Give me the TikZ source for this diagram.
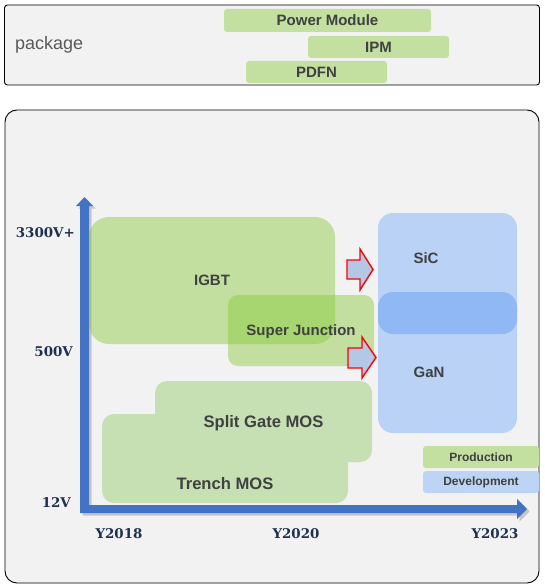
\documentclass[tikz,border=0pt]{standalone}
\usepackage{fontspec}
\newfontfamily\arialf{Liberation Sans}
\newfontfamily\serifb{DejaVu Serif}
\definecolor{panelgray}{HTML}{F2F2F2}
\definecolor{pgreen}{HTML}{C3E0A0}
\definecolor{mosgreen}{HTML}{C6E0B4}
\definecolor{tgreen}{HTML}{84C832}
\definecolor{devblue}{HTML}{B9D2F6}
\definecolor{bandblue}{HTML}{8FB8F5}
\definecolor{legblue}{HTML}{BDD4F5}
\definecolor{axisblue}{HTML}{4472C4}
\definecolor{navy}{HTML}{1F2F4F}
\definecolor{txtgray}{HTML}{404040}
\definecolor{arrfill}{HTML}{B4C7E7}
\tikzset{
  panel/.style={draw=black, line width=0.9pt, fill=panelgray, inner sep=0pt},
  bar/.style={fill=pgreen, rounded corners=3pt, inner sep=0pt, text=txtgray,
    font=\arialf\bfseries\fontsize{15}{17}\selectfont},
  techbox/.style={inner sep=0pt, text=txtgray, text depth=0pt, font=\arialf\bfseries\fontsize{15}{18}\selectfont},
  boxlbl/.style={text=txtgray, text depth=0pt, font=\arialf\bfseries\fontsize{15}{18}\selectfont, inner sep=0pt},
  axlbl/.style={text=navy, font=\serifb\bfseries\fontsize{13.4}{16}\selectfont, inner sep=0pt},
  legbox/.style={inner sep=0pt, rounded corners=3pt, minimum width=116pt, minimum height=22pt,
    text=txtgray, font=\arialf\bfseries\fontsize{12}{14}\selectfont},
  redarrow/.style={draw=red, line width=1.4pt, fill=arrfill, line join=miter}
}
\begin{document}
\begin{tikzpicture}[x=1pt,y=-1pt]
\useasboundingbox (0,0) rectangle (544,588);
\fill[white] (0,0) rectangle (544,588);
% package panel
\node[panel, rounded corners=3pt, minimum width=535pt, minimum height=80pt] (pkgpanel) at (272,45) {};
\node[anchor=west, inner sep=0pt, text=black!65, font=\arialf\fontsize{18}{20}\selectfont] (pkglbl) at (15,45) {package};
\node[bar, minimum width=207pt, minimum height=23pt, text depth=0pt] (pm) at (327.5,20.5) {Power Module};
\node[bar, minimum width=141pt, minimum height=22pt] (ipm) at (378.5,47) {IPM};
\node[bar, minimum width=141pt, minimum height=22pt] (pdfn) at (316.5,72) {PDFN};
% main panel
\node[panel, rounded corners=12pt, minimum width=534pt, minimum height=473pt] (mainpanel) at (272,346.5) {};
% axes (shadow + arrow)
\fill[black, opacity=0.18, shift={(2.5,2.5)}]
  (84.5,197) -- (93,206) -- (89,206) -- (89,505) -- (517,505) -- (517,499) -- (527,509)
  -- (517,519) -- (517,513) -- (80,513) -- (80,206) -- (76,206) -- cycle;
\fill[axisblue]
  (84.5,197) -- (93,206) -- (89,206) -- (89,505) -- (517,505) -- (517,499) -- (527,509)
  -- (517,519) -- (517,513) -- (80,513) -- (80,206) -- (76,206) -- cycle;
% axis labels
\node[axlbl, anchor=east] (v3300) at (75,233) {3300V+};
\node[axlbl, anchor=east] (v500) at (73,352) {500V};
\node[axlbl, anchor=east] (v12) at (71,503) {12V};
\node[axlbl] (y2018) at (119,534) {Y2018};
\node[axlbl] (y2020) at (296,534) {Y2020};
\node[axlbl] (y2023) at (495,534) {Y2023};
% MOS boxes
\node[techbox, fill=mosgreen, rounded corners=12pt, minimum width=246pt, minimum height=89pt] (trench) at (225,458.5) {};
\node[boxlbl, font=\arialf\bfseries\fontsize{16.6}{19}\selectfont] (trenchlbl) at (225,483.5) {Trench MOS};
\node[techbox, fill=mosgreen, rounded corners=12pt, minimum width=217pt, minimum height=81pt,
  font=\arialf\bfseries\fontsize{16.6}{19}\selectfont] (split) at (263.5,421.5) {Split Gate MOS};
% IGBT and Super Junction (translucent)
\node[techbox, fill=tgreen, fill opacity=0.43, text opacity=1, rounded corners=20pt, minimum width=246pt, minimum height=127pt] (igbt) at (212,280.5) {IGBT};
\node[techbox, fill=tgreen, fill opacity=0.43, text opacity=1, rounded corners=10pt, minimum width=146pt, minimum height=71pt] (sj) at (301,330.5) {Super Junction};
% development box
\node[techbox, fill=devblue, rounded corners=15pt, minimum width=139pt, minimum height=220pt] (dev) at (447.5,323) {};
\node[techbox, fill=bandblue, rounded corners=15pt, minimum width=139pt, minimum height=42pt] (band) at (447.5,313) {};
\node[boxlbl] (sic) at (426,258) {SiC};
\node[boxlbl] (gan) at (429,372) {GaN};
% red arrows
\draw[redarrow] (347,260) -- (360,260) -- (360,249) -- (373,269.5) -- (360,290) -- (360,279) -- (347,279) -- cycle;
\draw[redarrow] (348,348) -- (362,348) -- (362,337) -- (376,357.5) -- (362,378) -- (362,368) -- (348,368) -- cycle;
% legend
\node[legbox, fill=pgreen] (legprod) at (481,457) {Production};
\node[legbox, fill=legblue] (legdev) at (481,482) {Development};
\end{tikzpicture}
\end{document}
